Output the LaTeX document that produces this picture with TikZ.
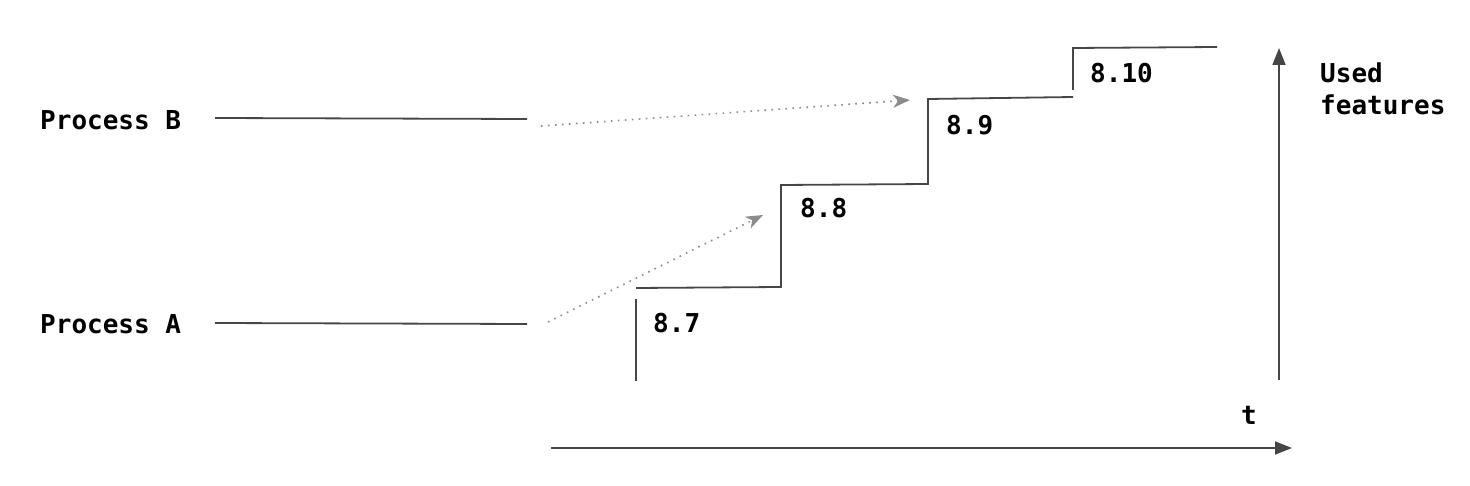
\documentclass[tikz,border=0pt]{standalone}
\usepackage{fontspec}
\setmonofont{DejaVu Sans Mono}
\usepackage{tikz}
\usetikzlibrary{arrows.meta}
\definecolor{linegray}{RGB}{70,70,70}
\definecolor{dotgray}{RGB}{140,140,140}
\tikzset{
  lbl/.style={font=\ttfamily\bfseries\fontsize{26}{32}\selectfont, inner sep=0pt, anchor=base west},
  steps/.style={draw=linegray, line width=1.8pt},
  axis/.style={draw=linegray, line width=1.8pt, -{Triangle[length=17pt, width=13pt]}},
  hint/.style={draw=dotgray, line width=1.6pt, dash pattern=on 1.6pt off 5.4pt,
    -{Stealth[length=17pt, width=13pt, inset=5pt, fill=dotgray]}}
}

\begin{document}
\begin{tikzpicture}[x=1pt, y=-1pt]
    \useasboundingbox (0,0) rectangle (1470,486);
    % processes
    \node[lbl] (procb) at (40,130) {Process B};
    \node[lbl] (proca) at (40,334) {Process A};
    \coordinate (bstart) at (215,118);
    \coordinate (bend) at (527,119);
    \coordinate (astart) at (215,323);
    \coordinate (aend) at (527,324);
    \draw[steps] (bstart) -- (bend);
    \draw[steps] (astart) -- (aend);

    % versions
    \node[lbl] (v7) at (653,333) {8.7};
    \node[lbl] (v8) at (800,218) {8.8};
    \node[lbl] (v9) at (946,135) {8.9};
    \node[lbl] (v10) at (1090,83) {8.10};
    \draw[steps] (636,381) -- (636,299);
    \draw[steps] (636,288) -- (781,287) -- (781,185) -- (928,184) -- (928,99) -- (1073,97);
    \draw[steps] (1073,90) -- (1073,48) -- (1217,47);

    % which version each process sees
    \coordinate (bhint) at (910,100);
    \coordinate (ahint) at (763,215);
    \draw[hint] (541,126) -- (bhint);
    \draw[hint] (548,322) -- (ahint);

    % axes
    \coordinate (ybot) at (1279,380);
    \coordinate (ytop) at (1279,48);
    \coordinate (xleft) at (551,448);
    \coordinate (xright) at (1292,448);
    \draw[axis] (ybot) -- (ytop);
    \draw[axis] (xleft) -- (xright);
    \node[lbl, anchor=north west, align=left] (used) at (1320,63) {Used\\features};
    \node[lbl] (time) at (1241,424) {t};
\end{tikzpicture}
\end{document}
